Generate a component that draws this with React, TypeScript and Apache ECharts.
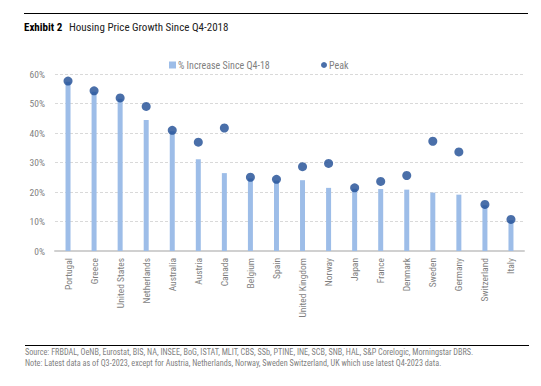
import React, { useEffect, useRef } from "react";
import * as echarts from "echarts";

const categories = [
  "Portugal", "Greece", "United States", "Netherlands", "Australia", "Austria",
  "Canada", "Belgium", "Spain", "United Kingdom", "Norway", "Japan", "France",
  "Denmark", "Sweden", "Germany", "Switzerland", "Italy",
];
const increaseValues = [57.4, 54.0, 51.6, 44.4, 40.6, 31.1, 26.4, 24.6, 23.9, 24.0, 21.4, 21.1, 21.0, 20.8, 19.8, 19.1, 15.5, 10.4];
const peakValues = [57.6, 54.3, 51.9, 49.0, 40.9, 36.9, 41.7, 25.0, 24.3, 28.6, 29.7, 21.4, 23.6, 25.6, 37.2, 33.6, 15.8, 10.7];
const yTicks = [0, 10, 20, 30, 40, 50, 60];

const FONT = "'Liberation Sans Narrow', 'Roboto Condensed', 'Liberation Sans', sans-serif";

export default function App() {
  const ref = useRef<HTMLDivElement>(null);
  useEffect(() => {
    const chart = echarts.init(ref.current!, null, { renderer: "svg" });
    chart.setOption({
      animation: false,
      backgroundColor: "#ffffff",
      textStyle: { fontFamily: FONT },
      grid: { left: 55, right: 17, top: 74, bottom: 135, containLabel: false },
      legend: [
        {
          data: ["% Increase Since Q4-18"],
          left: 164, top: 55,
          icon: "rect", itemWidth: 7, itemHeight: 7, itemGap: 3,
          textStyle: { fontFamily: FONT, fontSize: 10, color: "#7f7f7f", padding: [0, 0, 0, -3] },
        },
        {
          data: ["Peak"],
          left: 316, top: 55,
          icon: "circle", itemWidth: 6, itemHeight: 6,
          textStyle: { fontFamily: FONT, fontSize: 10, color: "#7f7f7f", padding: [0, 0, 0, -3] },
        },
      ],
      xAxis: {
        type: "category",
        data: categories,
        axisLine: { lineStyle: { color: "#d0d0d0", width: 2 } },
        axisTick: { show: false },
        axisLabel: {
          rotate: 90, interval: 0, fontSize: 9.5, color: "#7f7f7f", fontFamily: FONT, margin: 7,
        },
      },
      yAxis: {
        type: "value",
        min: yTicks[0], max: yTicks[yTicks.length - 1], interval: 10,
        axisLine: { show: false },
        axisTick: { show: false },
        axisLabel: { formatter: "{value}%", fontSize: 9.5, color: "#7f7f7f", fontFamily: FONT, margin: 10 },
        splitLine: { lineStyle: { color: "#d9d9d9", type: [3, 2], width: 1 } },
      },
      series: [
        {
          name: "% Increase Since Q4-18",
          type: "bar",
          data: increaseValues,
          barWidth: 5,
          itemStyle: { color: "#9dbde8" },
          z: 2,
        },
        {
          name: "Peak",
          type: "scatter",
          data: peakValues,
          symbol: "circle",
          symbolSize: 9,
          itemStyle: { color: "#1d4b94" },
          z: 3,
        },
      ],
      graphic: [
        { type: "line", shape: { x1: 24, y1: 13.5, x2: 528, y2: 13.5 }, style: { stroke: "#000", lineWidth: 1.2 } },
        {
          type: "text", left: 24, top: 21,
          style: {
            text: "{b|Exhibit 2}  {n|Housing Price Growth Since Q4-2018}",
            rich: {
              b: { fontFamily: FONT, fontSize: 11, fontWeight: "bold", fill: "#000" },
              n: { fontFamily: FONT, fontSize: 11, fill: "#222" },
            },
          },
        },
        { type: "line", shape: { x1: 25, y1: 345.5, x2: 529, y2: 345.5 }, style: { stroke: "#000", lineWidth: 1.2 } },
        {
          type: "text", left: 25, top: 348,
          style: {
            text: "Source: FRBDAL, OeNB, Eurostat, BIS, NA, INSEE, BoG, ISTAT, MLIT, CBS, SSb, PTINE, INE, SCB, SNB, HAL, S&P Corelogic, Morningstar DBRS.",
            fontFamily: FONT, fontSize: 8.2, fill: "#7f7f7f",
          },
        },
        {
          type: "text", left: 25, top: 359,
          style: {
            text: "Note: Latest data as of Q3-2023, except for Austria, Netherlands, Norway, Sweden Switzerland, UK which use latest Q4-2023 data.",
            fontFamily: FONT, fontSize: 8.2, fill: "#7f7f7f",
          },
        },
      ],
    });
    return () => chart.dispose();
  }, []);
  return <div ref={ref} style={{ width: 541, height: 386, position: "absolute", left: 0, top: 0 }} />;
}
